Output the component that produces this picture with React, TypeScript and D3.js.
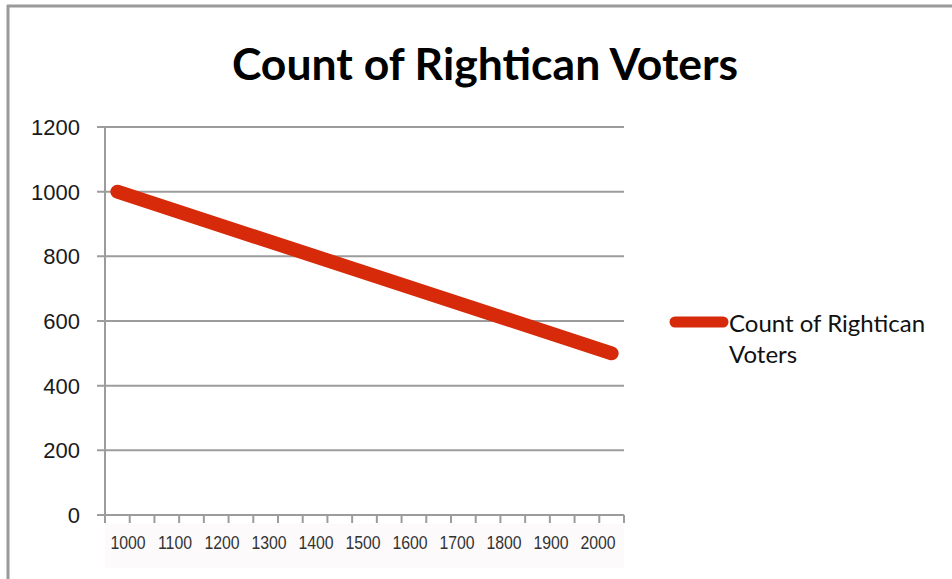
import React from "react";
import * as d3 from "d3";

// Series: count of voters by year
const years = [1000, 2000];
const voters = [1000, 500];

// Axis ticks and labels
const yTicks = [0, 200, 400, 600, 800, 1000, 1200];
const xLabels = [1000, 1100, 1200, 1300, 1400, 1500, 1600, 1700, 1800, 1900, 2000];
const xTickMarks = d3.range(975, 2026, 50);

const title = "Count of Rightican Voters";
const legendLines = ["Count of Rightican", "Voters"];

const W = 952;
const H = 579;
const plot = { left: 105, right: 624, top: 127, bottom: 515 };
const RED = "#d62a0a";
const GRID = "#9c9c9c";

export default function App() {
  const x = d3.scaleLinear().domain([975, 2025]).range([plot.left, plot.right]);
  const xLab = d3.scaleLinear().domain([1000, 2000]).range([128, 598]);
  const y = d3.scaleLinear().domain([0, 1200]).range([plot.bottom, plot.top]);

  const pts = years.map((yr, i) => [x(yr), y(voters[i])] as [number, number]);
  const line = d3.line()(pts) || "";

  return (
    <svg
      width={W}
      height={H}
      style={{ position: "absolute", left: 0, top: 0, background: "#fff" }}
    >
      {/* frame */}
      <line x1={7} x2={W} y1={6} y2={6} stroke="#9a9a9a" strokeWidth={3} />
      <line x1={8} x2={8} y1={5} y2={H} stroke="#9a9a9a" strokeWidth={3} />

      <text
        x={485}
        y={80}
        textAnchor="middle"
        fontFamily="Lato, 'Open Sans', sans-serif"
        fontWeight="bold"
        fontSize={44.5}
        fill="#000"
      >
        {title}
      </text>

      {/* label strip under the category axis */}
      <rect x={plot.left} y={524} width={plot.right - plot.left} height={44} fill="#fcfafb" />

      {/* gridlines and value labels */}
      {yTicks.map((t) => (
        <g key={t}>
          <line
            x1={97}
            x2={plot.right}
            y1={y(t)}
            y2={y(t)}
            stroke={GRID}
            strokeWidth={2}
          />
          <text
            x={80}
            y={y(t)}
            dy="0.36em"
            textAnchor="end"
            fontFamily="'Liberation Sans', Arial, sans-serif"
            fontSize={22}
            fill="#1a1a1a"
          >
            {t}
          </text>
        </g>
      ))}

      {/* vertical axis */}
      <line x1={plot.left} x2={plot.left} y1={plot.top} y2={plot.bottom + 7} stroke={GRID} strokeWidth={2} />

      {/* category tick marks */}
      {xTickMarks.map((t) => (
        <line key={t} x1={x(t)} x2={x(t)} y1={plot.bottom} y2={plot.bottom + 8} stroke={GRID} strokeWidth={2} />
      ))}

      {xLabels.map((t) => (
        <text
          key={t}
          transform={`translate(${xLab(t)},549) scale(0.88,1)`}
          textAnchor="middle"
          fontFamily="'Liberation Sans', Arial, sans-serif"
          fontSize={18}
          fill="#333"
        >
          {t}
        </text>
      ))}

      {/* series */}
      <path d={line} fill="none" stroke={RED} strokeWidth={14} strokeLinecap="round" />

      {/* legend */}
      <line x1={675} x2={723} y1={322} y2={322} stroke={RED} strokeWidth={11} strokeLinecap="round" />
      {legendLines.map((s, i) => (
        <text
          key={s}
          x={729}
          y={332 + i * 31}
          fontFamily="Lato, 'Open Sans', sans-serif"
          fontSize={24}
          fill="#111"
        >
          {s}
        </text>
      ))}
    </svg>
  );
}
